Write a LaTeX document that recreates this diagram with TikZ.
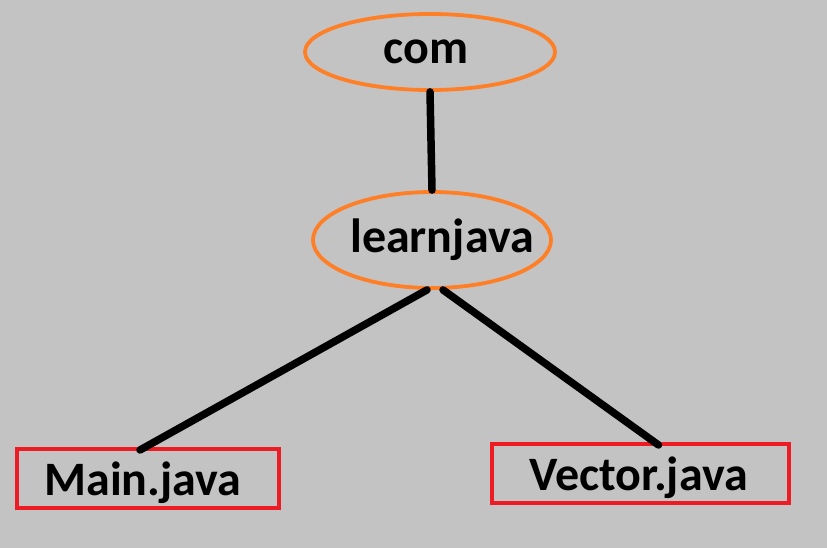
\documentclass[tikz,border=0pt]{standalone}
\usepackage{fontspec}
\setmainfont{Carlito}
\usetikzlibrary{shapes.geometric, positioning}
\definecolor{paintgray}{RGB}{195,195,195}
\definecolor{paintorange}{RGB}{255,127,39}
\definecolor{paintred}{RGB}{237,28,36}

\begin{document}
\begin{tikzpicture}[
				x=1pt, y=-1pt,
				pkg/.style={ellipse, draw=paintorange, line width=3.8pt, inner sep=0pt,
					font=\fontsize{48}{52}\selectfont\bfseries},
				srcfile/.style={rectangle, draw=paintred, line width=4pt, inner sep=0pt,
					minimum height=59pt, font=\fontsize{48}{52}\selectfont\bfseries},
				link/.style={line width=7.5pt, line cap=round, color=black}
				]
				\fill[paintgray] (0,0) rectangle (827,548);
				\useasboundingbox (0,0) rectangle (827,548);

				\node[pkg, minimum width=250pt, minimum height=76pt] (com) at (430,52) {\makebox[0pt]{com\hspace{8pt}}};
				\node[pkg, minimum width=238pt, minimum height=96pt] (learnjava) at (432,240) {\makebox[0pt]{\hspace{20pt}learnjava}};

				\node[srcfile, minimum width=262pt] (main) at (148,478.5) {\makebox[0pt]{\raisebox{-4pt}[\height][\depth]{Main.java}\hspace{10pt}}};
				\node[srcfile, minimum width=297pt] (vector) at (640.5,473.5) {\makebox[0pt]{\raisebox{-4pt}[\height][\depth]{Vector.java}\hspace{4pt}}};

				\draw[link] (com.south) -- (learnjava.north);
				\draw[link] ([xshift=-5pt]learnjava.south) -- ([xshift=-8pt, yshift=-3pt]main.north);
				\draw[link] ([xshift=11pt]learnjava.south) -- ([xshift=18pt, yshift=-3pt]vector.north);
			\end{tikzpicture}
\end{document}
